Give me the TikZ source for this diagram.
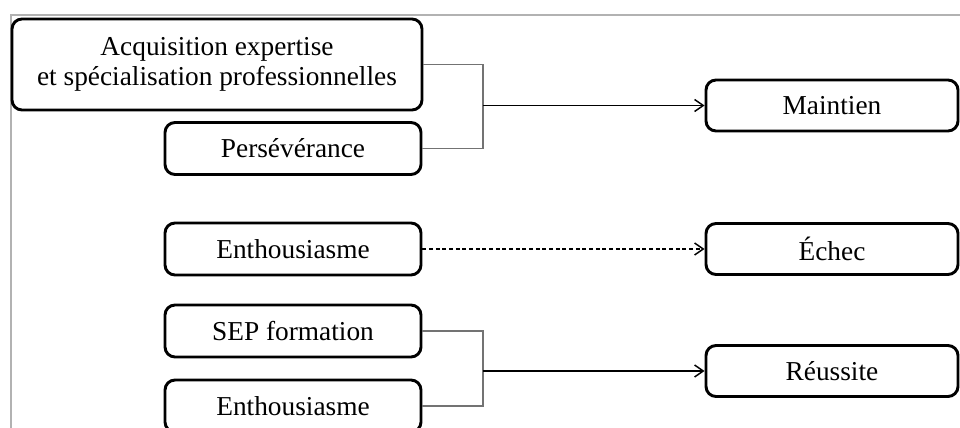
\documentclass[tikz,border=0pt]{standalone}
\usepackage{fontspec}
\setmainfont{Liberation Serif}
\usetikzlibrary{arrows.meta}
\begin{document}
\begin{tikzpicture}[x=0.75pt,y=-0.75pt,
  box/.style={draw=black, line width=2.2pt, rounded corners=7.5pt, fill=white,
    inner sep=0pt, align=center, font=\fontsize{20.5}{22}\selectfont},
  leftbox/.style={box, minimum width=192pt, minimum height=39pt},
  rightbox/.style={box, minimum width=189pt, minimum height=38.25pt},
  bracket/.style={draw=black!55, line width=0.9pt},
  arr/.style={draw=black, line width=1.1pt, -{Straight Barb[length=6.5pt,width=9pt,line width=1.1pt]}},
  frame/.style={draw=black!30, line width=0.9pt}]
\useasboundingbox (0,0) rectangle (960,428);
\draw[frame] (11,440) -- (11,15) -- (965,15);
% left column
\node[box, minimum width=307.5pt, minimum height=68.25pt] (A) at (217,64.5)
  {Acquisition expertise\\et spécialisation professionnelles};
\node[leftbox] (P) at (293,148.5) {Persévérance};
\node[leftbox] (E1) at (293,249) {Enthousiasme};
\node[leftbox] (S) at (293,331) {SEP formation};
\node[leftbox] (E2) at (293,406) {Enthousiasme};
% right column
\node[rightbox] (M) at (832,105.5) {Maintien};
\node[rightbox] (C) at (832,249) {Échec};
\node[rightbox] (R) at (832,371) {Réussite};
% junctions
\coordinate (j1) at (483,105.5);
\coordinate (j2) at (483,371);
% connectors
\draw[bracket] (A.east) -| (j1);
\draw[bracket] (P.east) -| (j1);
\draw[arr] (j1) -- (M.west);
\draw[arr, dash pattern=on 3pt off 2pt] (E1.east) -- (C.west);
\draw[bracket] (S.east) -| (j2);
\draw[bracket] (E2.east) -| (j2);
\draw[arr] (j2) -- (R.west);
\end{tikzpicture}
\end{document}
